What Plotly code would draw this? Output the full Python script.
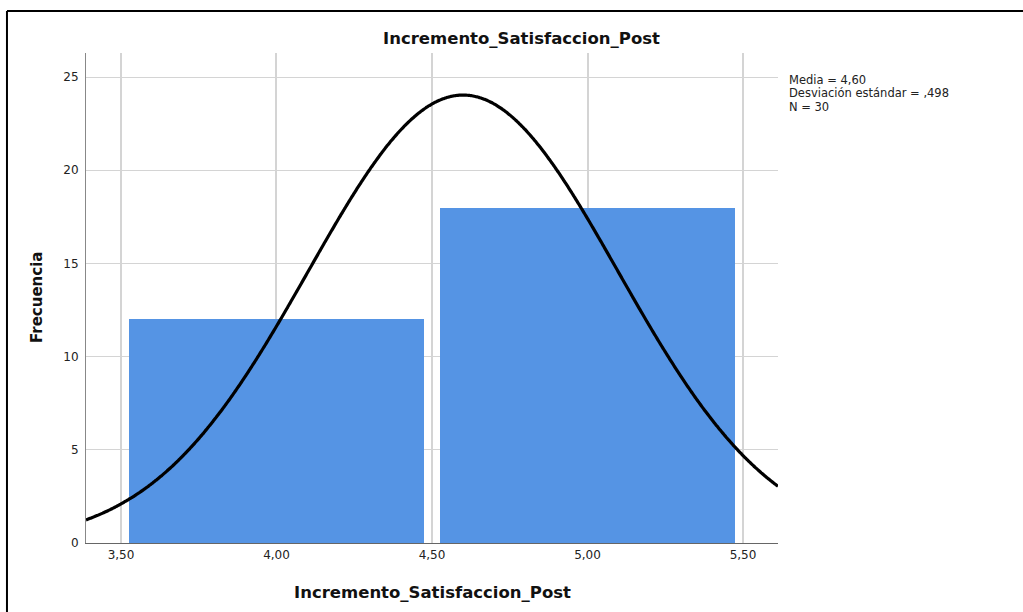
import numpy as np
import plotly.graph_objects as go

# Histogram bins (bin width 1.0) and frequencies
bin_centers = [4.0, 5.0]
frequencies = [12, 18]

# Summary statistics shown next to the plot
media = 4.60
desviacion = 0.498
n_total = 30
bin_width = 1.0

x_ticks = [3.5, 4.0, 4.5, 5.0, 5.5]
y_ticks = [0, 5, 10, 15, 20, 25]

x_range = [3.3875, 5.6125]
y_range = [0, 26.29]

# Normal curve scaled to the histogram counts
xc = np.linspace(x_range[0], x_range[1], 600)
yc = n_total * bin_width / (desviacion * np.sqrt(2 * np.pi)) * np.exp(-0.5 * ((xc - media) / desviacion) ** 2)

fig = go.Figure()
fig.add_trace(go.Bar(
    x=bin_centers, y=frequencies, width=0.95,
    marker=dict(color="#5594e4", line=dict(width=0)),
    hoverinfo="skip",
))
fig.add_trace(go.Scatter(
    x=xc, y=yc, mode="lines",
    line=dict(color="black", width=3.2, simplify=False, shape="spline"),
    hoverinfo="skip",
))

small = dict(family="DejaVu Sans", size=12, color="#222222")
stats_font = dict(family="DejaVu Sans", size=11.5, color="#222222")
bold_font = dict(family="DejaVu Sans", size=16.5, color="#111111")

annotations = [
    dict(text="<b>Incremento_Satisfaccion_Post</b>", x=0.63, y=1.0306, font=bold_font),
    dict(text="<b>Incremento_Satisfaccion_Post</b>", x=0.5014, y=-0.10, font=bold_font),
    dict(text="<b>Frecuencia</b>", x=-0.0708, y=0.5, textangle=-90,
         font=dict(family="DejaVu Sans", size=15, color="#111111")),
]
for k in annotations:
    k.update(xref="paper", yref="paper", showarrow=False, xanchor="center", yanchor="middle")

stats_lines = [
    "Media = " + f"{media:.2f}".replace(".", ","),
    "Desviación estándar = " + f"{desviacion:.3f}".replace("0.", ",", 1),
    "N = " + str(n_total),
]
for line, yy in zip(stats_lines, [0.9459, 0.9184, 0.8908]):
    annotations.append(dict(text=line, xref="paper", yref="paper", x=1.013, y=yy,
                            xanchor="left", yanchor="middle", showarrow=False, font=stats_font))

fig.update_layout(
    width=1023, height=612,
    margin=dict(l=86, r=245, t=53, b=69),
    paper_bgcolor="white", plot_bgcolor="white",
    showlegend=False,
    separators=",.",
    bargap=0,
    annotations=annotations,
    xaxis=dict(
        range=x_range, tickvals=x_ticks, tickformat=".2f",
        showgrid=True, gridcolor="#d4d4d4", gridwidth=1.6,
        showline=True, linecolor="#666666", linewidth=1.2,
        ticks="", tickfont=small, zeroline=False,
    ),
    yaxis=dict(
        range=y_range, tickvals=y_ticks,
        showgrid=True, gridcolor="#d4d4d4", gridwidth=1,
        showline=True, linecolor="#888888", linewidth=1,
        ticks="", tickfont=small, zeroline=False, ticklabelstandoff=4,
    ),
    shapes=[
        dict(type="line", xref="paper", yref="paper", x0=-0.1142, x1=1.4, y0=1.0857, y1=1.0857,
             line=dict(color="black", width=2)),
        dict(type="line", xref="paper", yref="paper", x0=-0.1142, x1=-0.1142, y0=1.0857, y1=-0.2,
             line=dict(color="black", width=2)),
    ],
)

fig.write_html("out.html")
